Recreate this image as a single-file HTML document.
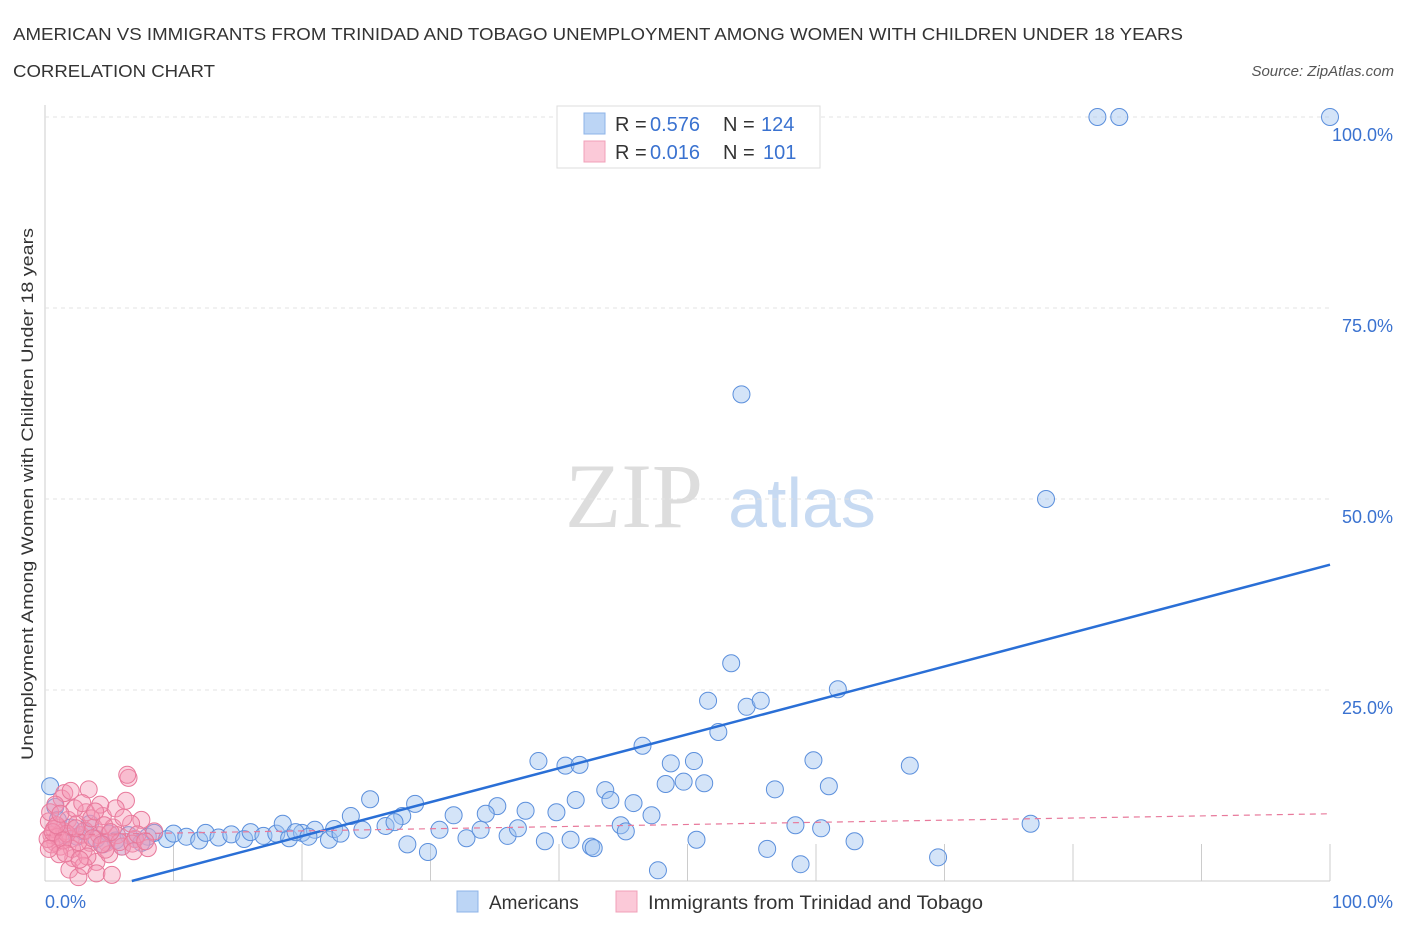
<!DOCTYPE html>
<html><head><meta charset="utf-8"><style>
body{margin:0;background:#fff;width:1406px;height:930px;overflow:hidden;font-family:"Liberation Sans",sans-serif}
</style></head><body>
<svg id="chart" width="1406" height="930" xmlns="http://www.w3.org/2000/svg">
<text x="13" y="40" font-size="17.5" fill="#333" textLength="1170" lengthAdjust="spacingAndGlyphs">AMERICAN VS IMMIGRANTS FROM TRINIDAD AND TOBAGO UNEMPLOYMENT AMONG WOMEN WITH CHILDREN UNDER 18 YEARS</text>
<text x="13" y="77" font-size="17.5" fill="#333" textLength="202" lengthAdjust="spacingAndGlyphs">CORRELATION CHART</text>
<text x="1394" y="76" font-size="15" fill="#555" font-style="italic" text-anchor="end">Source: ZipAtlas.com</text>
<text transform="translate(33,494) rotate(-90)" font-size="17" fill="#333" text-anchor="middle" textLength="532" lengthAdjust="spacingAndGlyphs">Unemployment Among Women with Children Under 18 years</text>
<g>
<text x="634" y="527" font-size="92" fill="#ddd" font-family="Liberation Serif,serif" text-anchor="middle">ZIP</text>
<text x="802" y="527" font-size="70" fill="#c7daf2" text-anchor="middle">atlas</text>
</g>
<g id="grid"></g><g id="marks"></g><g id="lines"></g>
<g>
<rect x="557" y="106" width="263" height="62" fill="#fff" stroke="#ddd"/>
<rect x="584" y="113" width="21" height="21" fill="#bcd5f5" stroke="#8db3e8"/>
<text x="615" y="131" font-size="20" fill="#333">R =</text><text x="650" y="131" font-size="20" fill="#3a72d0">0.576</text>
<text x="723" y="131" font-size="20" fill="#333">N =</text><text x="761" y="131" font-size="20" fill="#3a72d0">124</text>
<rect x="584" y="141" width="21" height="21" fill="#fbc9d8" stroke="#f0a0b8"/>
<text x="615" y="159" font-size="20" fill="#333">R =</text><text x="650" y="159" font-size="20" fill="#3a72d0">0.016</text>
<text x="723" y="159" font-size="20" fill="#333">N =</text><text x="763" y="159" font-size="20" fill="#3a72d0">101</text>
</g>
<g>
<rect x="457" y="891" width="21" height="21" fill="#bcd5f5" stroke="#8db3e8"/>
<text x="489" y="909" font-size="19" fill="#333">Americans</text></g>
<g>
<rect x="616" y="891" width="21" height="21" fill="#fbc9d8" stroke="#f0a0b8"/>
<text x="648" y="909" font-size="19" fill="#333" textLength="335" lengthAdjust="spacingAndGlyphs">Immigrants from Trinidad and Tobago</text></g>
</svg>
<script>
const yTicks=[25,50,75,100];
const yTickLabels=["25.0%","50.0%","75.0%","100.0%"];
const xTickLabels=["0.0%","100.0%"];
const blueX=[81.9,83.6,100,54.2,77.9,53.4,51.6,54.6,55.7,61.7,52.4,46.5,38.4,40.5,41.6,48.7,50.5,59.8,67.3,48.3,49.7,51.3,56.8,61,43.6,41.3,44,45.8,47.2,25.3,28.8,35.2,37.4,39.8,34.3,27.8,23.8,31.8,44.8,45.2,50.7,58.4,60.4,76.7,63,56.2,58.8,69.5,47.7,38.9,40.9,42.5,42.7,29.8,28.2,32.8,22.1,30.7,33.9,36,36.8,26.5,27.2,24.7,0.4,0.8,1.5,2.5,3,4,5,5.5,6.5,7,8,8.5,9.5,10,11,12,12.5,13.5,14.5,15.5,16,17,18,19,20,21,2,3.5,1,4.5,6,7.5,18.5,19.5,20.5,22.5,23];
const blueY=[100,100,100,63.7,50,28.5,23.6,22.8,23.6,25.1,19.5,17.7,15.7,15.1,15.2,15.4,15.7,15.8,15.1,12.7,13,12.8,12,12.4,11.9,10.6,10.6,10.2,8.6,10.7,10.1,9.8,9.2,9,8.8,8.5,8.5,8.6,7.3,6.5,5.4,7.3,6.9,7.5,5.2,4.2,2.2,3.1,1.4,5.2,5.4,4.5,4.3,3.8,4.8,5.6,5.4,6.7,6.7,5.9,6.9,7.2,7.7,6.7,12.4,9.7,6,5.8,6.5,5.5,6.2,5.3,6,5.5,5.8,6.3,5.5,6.2,5.8,5.3,6.3,5.7,6.1,5.5,6.4,5.9,6.2,5.6,6.3,6.7,7,7.5,8,4.8,4.5,5,7.5,6.4,5.8,6.8,6.2];
const pinkX=[0.5,0.8,1,1.2,1.5,1.8,2,2.2,2.5,2.8,3,3.2,3.5,3.8,4,4.2,4.5,4.8,5,5.3,5.6,6,6.3,6.5,6.4,7,7.5,8,8.5,6.7,5.5,4.3,3.4,1.3,1.5,2.3,0.3,0.5,0.7,1,1.7,2.1,2.6,3.1,3.6,1.9,2.6,3,4,5.2,3.3,4.7,5.8,6.8,7.2,1.1,0.4,2.9,3.9,4.6,5.1,6.1,0.2,0.6,0.9,1.4,2.4,3.7,4.4,0.3,1.6,2.7,6.9,7.8,0.8,1.2,2];
const pinkY=[6,5,7,4.5,6.5,8,5.5,3,7.5,6,4,9,5,7,2.5,6,8.5,5,3.5,7,6,4.5,10.5,13.5,13.9,5.5,8,4.3,6.5,7.5,9.5,10,12,10.8,11.5,9.5,7.8,4.8,6.8,5.8,6.2,4.2,5.1,6.6,8.2,1.5,0.5,2,1,0.8,3.2,4.1,5.1,4.9,6.1,3.5,9,10.2,9.1,7.3,6.4,8.3,5.5,6.4,7.3,5.3,6.9,5.6,4.8,4.2,3.6,2.8,3.9,5.2,10,8.8,11.8];
const blueFit=[-3.0,0.444];
const pinkFit=[6.0,0.028];
const X0=45,X1=1330,Y0=881,Y1=117;
const sx=v=>X0+(X1-X0)*v/100, sy=v=>Y0-(Y0-Y1)*v/100;
const NS="http://www.w3.org/2000/svg";
function mk(t,a,p){const e=document.createElementNS(NS,t);for(const k in a)e.setAttribute(k,a[k]);p.appendChild(e);return e;}
const grid=document.getElementById('grid');
mk('line',{x1:X0,y1:Y0,x2:X1,y2:Y0,stroke:'#ccc'},grid);
mk('line',{x1:X0,y1:Y1-12,x2:X0,y2:Y0,stroke:'#ccc'},grid);
yTicks.forEach((t,i)=>{
const l=mk('line',{x1:X0,y1:sy(t),x2:X1,y2:sy(t),stroke:'#e3e3e3','stroke-dasharray':'4,4'},grid);


const tx=mk('text',{x:1393,y:sy(t)+24,'font-size':18,fill:'#3a72d0','text-anchor':'end'},grid);
tx.textContent=yTickLabels[i];


});
for(let i=1;i<=10;i++){const tk=mk('line',{x1:sx(i*10),y1:Y0-37,x2:sx(i*10),y2:Y0,stroke:'#ccc'},grid);

}
[[0,'start',45],[100,'end',1393]].forEach((d,i)=>{const tx=mk('text',{x:d[2],y:908,'font-size':18,fill:'#3a72d0','text-anchor':d[1]},grid);tx.textContent=xTickLabels[i];

});
const marks=document.getElementById('marks');
blueX.forEach((x,i)=>{const c=mk('circle',{cx:sx(x),cy:sy(blueY[i]),r:8.5,fill:'rgba(160,195,240,0.45)',stroke:'#5b8fdc','stroke-width':1},marks);

});
pinkX.forEach((x,i)=>{const c=mk('circle',{cx:sx(x),cy:sy(pinkY[i]),r:8.5,fill:'rgba(244,150,180,0.4)',stroke:'#e8799b','stroke-width':1},marks);

});
const lines=document.getElementById('lines');
const bx0=-blueFit[0]/blueFit[1];
const bl=mk('line',{x1:sx(bx0),y1:sy(0),x2:sx(100),y2:sy(blueFit[0]+blueFit[1]*100),stroke:'#2a6fd6','stroke-width':2.5},lines);


const pl=mk('line',{x1:sx(0),y1:sy(pinkFit[0]),x2:sx(100),y2:sy(pinkFit[0]+pinkFit[1]*100),stroke:'#e8799b','stroke-width':1.2,'stroke-dasharray':'6,5'},lines);


</script>
</body></html>
